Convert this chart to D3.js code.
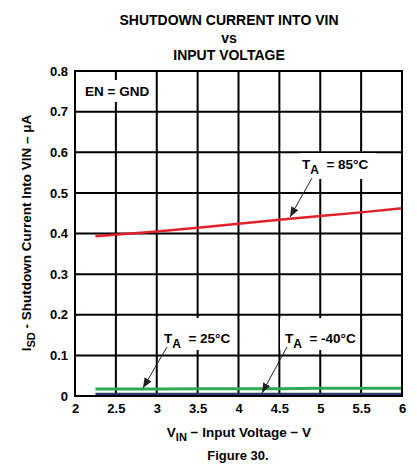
<!DOCTYPE html>
<html><head><meta charset="utf-8">
<script src="https://cdn.jsdelivr.net/npm/d3@7"></script>
<style>body{margin:0;background:#fff}svg{display:block;font-family:"Liberation Sans",Arial,sans-serif;font-weight:bold}</style>
</head><body><svg id="c" width="417" height="475"></svg>
<script>
const xTicks = [2, 2.5, 3, 3.5, 4, 4.5, 5, 5.5, 6];
const yTicks = [0, 0.1, 0.2, 0.3, 0.4, 0.5, 0.6, 0.7, 0.8];
const vin = [2.25, 3, 3.5, 4, 4.5, 5, 5.5, 6];
const i85 = [0.393, 0.405, 0.414, 0.424, 0.434, 0.443, 0.452, 0.462];
const i25 = [0.017, 0.017, 0.018, 0.018, 0.018, 0.019, 0.019, 0.019];
const iM40 = [0.004, 0.004, 0.004, 0.004, 0.004, 0.004, 0.004, 0.004];

const svg = d3.select("#c");
const m = {l:75, r:402, t:71, b:396};
const x = d3.scaleLinear().domain([2,6]).range([m.l, m.r]);
const y = d3.scaleLinear().domain([0,0.8]).range([m.b, m.t]);

// title
const title = ["SHUTDOWN CURRENT INTO VIN","vs","INPUT VOLTAGE"];
svg.selectAll("text.title").data(title).join("text").attr("class","title")
  .attr("x",229).attr("y",(d,i)=>[25,43,60][i]).attr("text-anchor","middle")
  .attr("font-size",14).text(d=>d);

// grid
const g = svg.append("g");
g.selectAll("line.vx").data(xTicks).join("line").attr("class","vx")
  .attr("x1",d=>x(d)).attr("x2",d=>x(d)).attr("y1",m.t).attr("y2",m.b)
  .attr("stroke","#000").attr("stroke-width",2);
g.selectAll("line.hy").data(yTicks).join("line").attr("class","hy")
  .attr("y1",d=>y(d)).attr("y2",d=>y(d)).attr("x1",m.l).attr("x2",m.r)
  .attr("stroke","#000").attr("stroke-width",2);

// axes tick labels
const xa = svg.append("g").attr("transform",`translate(0,${m.b})`)
  .call(d3.axisBottom(x).tickValues(xTicks).tickSize(0).tickPadding(8).tickFormat(d3.format("")));
xa.select(".domain").remove();
xa.selectAll("text").attr("font-size",13).attr("font-family","Liberation Sans, Arial").attr("font-weight","bold").attr("fill","#000");
const ya = svg.append("g").attr("transform",`translate(${m.l},0)`)
  .call(d3.axisLeft(y).tickValues(yTicks).tickSize(0).tickPadding(7).tickFormat(d=>d===0?"0":d3.format(".1f")(d)));
ya.select(".domain").remove();
ya.selectAll("text").attr("font-size",13).attr("font-family","Liberation Sans, Arial").attr("font-weight","bold").attr("fill","#000");

// white label boxes
const boxes = [[81,80,70,22],[300,153,76,26],[160,318,76,32],[280,318,78,32]];
svg.selectAll("rect.bx").data(boxes).join("rect").attr("class","bx")
  .attr("x",d=>d[0]).attr("y",d=>d[1]).attr("width",d=>d[2]).attr("height",d=>d[3]).attr("fill","#fff");

// lines
const line = d3.line().x(d=>x(d[0])).y(d=>y(d[1]));
const series = [
  {v:iM40, c:"#2b3a6b", w:3.5},
  {v:i25, c:"#2eaa55", w:3},
  {v:i85, c:"#e0202a", w:2.5}
];
series.forEach(s=>{
  svg.append("path").attr("d",line(vin.map((v,i)=>[v,s.v[i]])))
    .attr("fill","none").attr("stroke",s.c).attr("stroke-width",s.w);
});
// border
svg.append("rect").attr("x",m.l).attr("y",m.t).attr("width",m.r-m.l).attr("height",m.b-m.t)
  .attr("fill","none").attr("stroke","#000").attr("stroke-width",2);

// annotations
svg.append("text").attr("x",85).attr("y",96).attr("font-size",13.5).text("EN = GND");
function tlabel(xp,yp,temp){
  const t = svg.append("text").attr("x",xp).attr("y",yp).attr("font-size",13.5);
  t.append("tspan").text("T");
  t.append("tspan").attr("dy",5).attr("font-size",12).text("A");
  t.append("tspan").attr("dy",-5).text("  = "+temp);
  t.attr("xml:space","preserve");
}
tlabel(302,169,"85°C");
tlabel(164,343,"25°C");
tlabel(285,343,"-40°C");

svg.append("defs").append("marker").attr("id","ah").attr("viewBox","0 0 10 10")
  .attr("refX",10).attr("refY",5).attr("markerWidth",10).attr("markerHeight",10)
  .attr("markerUnits","userSpaceOnUse").attr("orient","auto")
  .append("path").attr("d","M0,1 L10,5 L0,9 Z").attr("fill","#222");
const arrows = [[312,178,290,217],[167,347,143,388],[287,347,262,393]];
svg.selectAll("line.ar").data(arrows).join("line").attr("class","ar")
  .attr("x1",d=>d[0]).attr("y1",d=>d[1]).attr("x2",d=>d[2]).attr("y2",d=>d[3])
  .attr("stroke","#222").attr("stroke-width",1).attr("marker-end","url(#ah)");

// axis titles
const xt = svg.append("text").attr("x",239).attr("y",437).attr("text-anchor","middle").attr("font-size",13.5);
xt.append("tspan").text("V");
xt.append("tspan").attr("dy",4).attr("font-size",11).text("IN");
xt.append("tspan").attr("dy",-4).text(" − Input Voltage − V");
const yt = svg.append("text").attr("transform","translate(31,233) rotate(-90)").attr("text-anchor","middle").attr("font-size",13.5);
yt.append("tspan").text("I");
yt.append("tspan").attr("dy",4).attr("font-size",11).text("SD");
yt.append("tspan").attr("dy",-4).text(" - Shutdown Current Into VIN – μA");

svg.append("text").attr("x",238).attr("y",460).attr("text-anchor","middle").attr("font-size",13).text("Figure 30.");
</script></body></html>
